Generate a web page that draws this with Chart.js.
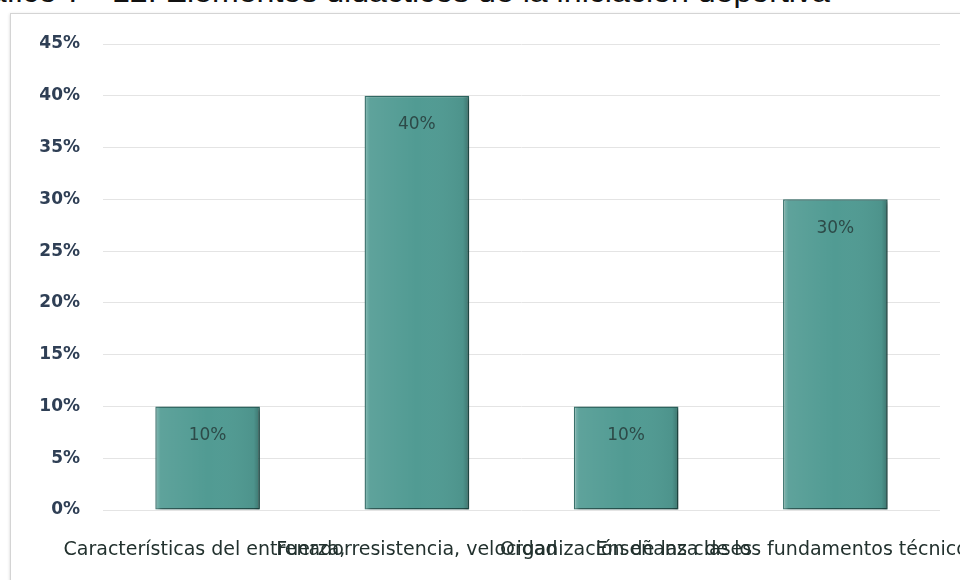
<!DOCTYPE html>
<html>
<head>
<meta charset="utf-8">
<script src="https://cdn.jsdelivr.net/npm/chart.js@4/dist/chart.umd.min.js"></script>
<style>
  html, body { margin: 0; padding: 0; background: #fff; overflow: hidden; }
  #wrap { position: relative; width: 960px; height: 580px; overflow: hidden; }
  #titulo {
    position: absolute; right: 130px; top: -20px;
    font: 27px/27px "Liberation Sans", Arial, sans-serif; color: #111;
    white-space: nowrap;
    transform: scaleX(1.19); transform-origin: right top;
  }
  #marco {
    position: absolute; left: 10px; top: 13px; width: 1000px; height: 620px;
    border: 1px solid #d4d4d4; box-shadow: 0 1px 3px rgba(0,0,0,0.18);
    background: #fff;
  }
  #ctx { position: absolute; left: 0; top: 0; }
</style>
</head>
<body>
<div id="wrap">
  <div id="titulo">Gráfico 7 - 12. Elementos didácticos de la iniciación deportiva</div>
  <div id="marco"></div>
  <canvas id="ctx" width="960" height="580"></canvas>
</div>
<script>
const categorias = [
    'Características del entrenador',
    'Fuerza, resistencia, velocidad',
    'Organización de las clases',
    'Enseñanza de los fundamentos técnicos y tácticos'
];
const porcentajes = [10, 40, 10, 30];
const ticksY = [0, 5, 10, 15, 20, 25, 30, 35, 40, 45];

const mychart = document.getElementById('ctx');

// sombra bajo las barras + brillo lateral + etiquetas de valor
const barras3d = {
    id: 'barras3d',
    beforeDatasetsDraw(chart) {
        const c = chart.ctx;
        c.save();
        c.shadowColor = 'rgba(0,0,0,0.35)';
        c.shadowBlur = 4;
        c.shadowOffsetX = 3;
        c.shadowOffsetY = 2;
    },
    afterDatasetsDraw(chart) {
        const c = chart.ctx;
        c.restore();
        const meta = chart.getDatasetMeta(0);
        meta.data.forEach((bar, i) => {
            const half = bar.width / 2;
            const left = bar.x - half, top = bar.y, h = bar.base - bar.y;
            let g = c.createLinearGradient(left, 0, left + bar.width, 0);
            g.addColorStop(0, 'rgba(255,255,255,0.3)');
            g.addColorStop(0.05, 'rgba(255,255,255,0.08)');
            g.addColorStop(0.5, 'rgba(255,255,255,0)');
            g.addColorStop(0.94, 'rgba(0,0,0,0.05)');
            g.addColorStop(1, 'rgba(0,0,0,0.25)');
            c.fillStyle = g;
            c.fillRect(left + 1, top + 1, bar.width - 2, h - 1);
            c.fillStyle = '#2d4a48';
            c.font = '17px "DejaVu Sans", sans-serif';
            c.textAlign = 'center';
            c.textBaseline = 'middle';
            c.fillText(porcentajes[i] + '%', bar.x, top + 29);
        });
    }
};

let myChart = new Chart(mychart, {
    type: 'bar',
    data: {
        labels: categorias,
        datasets: [{
            label: 'Elementos didácticos',
            data: porcentajes,
            backgroundColor: '#519b93',
            borderColor: '#2f6b65',
            borderWidth: 1.5,
            borderSkipped: false,
            categoryPercentage: 1,
            barPercentage: 0.5
        }]
    },
    options: {
        responsive: false,
        animation: false,
        layout: { padding: { left: 0, right: 20, top: 44, bottom: 0 } },
        plugins: {
            legend: { display: false },
            tooltip: { enabled: false }
        },
        scales: {
            x: {
                grid: { display: false },
                border: { display: false },
                afterFit: s => { s.height = 70; s.paddingLeft = 0; s.paddingRight = 0; },
                ticks: {
                    autoSkip: false,
                    maxRotation: 0,
                    minRotation: 0,
                    padding: 21,
                    color: '#22312e',
                    font: { family: '"DejaVu Sans", sans-serif', size: 19 }
                }
            },
            y: {
                min: 0,
                max: 45,
                afterBuildTicks: s => { s.ticks = ticksY.map(v => ({ value: v })); },
                afterFit: s => { s.width = 103; },
                grid: { color: '#e4e4e4', lineWidth: 1, drawTicks: false },
                border: { display: false },
                ticks: {
                    padding: 23,
                    color: '#2f3f55',
                    callback: v => v + '%',
                    font: { family: '"DejaVu Sans", sans-serif', size: 17, weight: 'bold' }
                }
            }
        }
    },
    plugins: [barras3d]
});
</script>
</body>
</html>
